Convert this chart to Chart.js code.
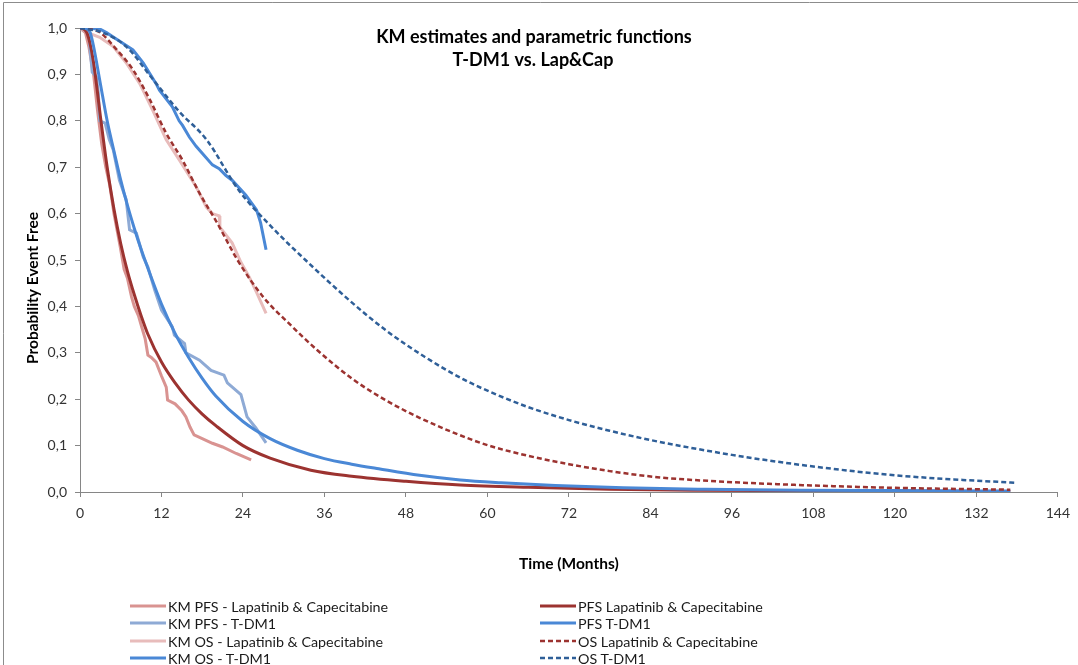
<!DOCTYPE html>
<html>
<head>
<meta charset="utf-8">
<script src="https://cdn.jsdelivr.net/npm/chart.js@4.4.1/dist/chart.umd.min.js"></script>
<style>
  html, body { margin: 0; padding: 0; background: #fff; }
  #wrap { position: relative; width: 1078px; height: 665px; overflow: hidden; }
  #legend { position: absolute; left: 0; top: 0; width: 100%; height: 100%; pointer-events: none;
            font-family: Lato, sans-serif; font-size: 14.3px; color: #1a1a1a; }
  .lg-item { position: absolute; height: 18px; display: flex; align-items: center; white-space: nowrap; }
  .lg-item svg { margin-right: 2px; }
</style>
</head>
<body>
<div id="wrap">
  <canvas id="chart" width="1078" height="665"></canvas>
  <div id="legend"></div>
</div>
<script>
// ---- data (time in months, survival probability) ----
const kmPfsLapT = [0, 0.8, 1.3, 2, 2.6, 3.2, 3.8, 4.4, 5, 5.9, 6.5, 7, 7.6, 8, 8.6, 9.1, 9.6, 10, 10.5, 11.2, 12, 12.7, 12.9, 14, 15, 15.6, 16.2, 16.8, 18, 19.5, 21, 23, 25.2];
const kmPfsLapS = [1, 0.99, 0.96, 0.9, 0.82, 0.75, 0.70, 0.66, 0.60, 0.53, 0.48, 0.46, 0.42, 0.40, 0.38, 0.355, 0.33, 0.295, 0.29, 0.28, 0.25, 0.226, 0.198, 0.19, 0.175, 0.162, 0.14, 0.123, 0.115, 0.105, 0.097, 0.083, 0.069];

const kmPfsTdmT = [0, 1.3, 1.5, 1.8, 2.4, 2.7, 2.9, 3.7, 4.3, 4.9, 5.8, 6.8, 7.3, 8.3, 9.3, 10, 11, 12, 13.6, 13.9, 15.4, 15.6, 17.6, 19.3, 21.2, 21.7, 23.7, 24.6, 25.9, 27.4];
const kmPfsTdmS = [1, 0.99, 0.95, 0.905, 0.895, 0.86, 0.80, 0.795, 0.76, 0.737, 0.672, 0.63, 0.565, 0.558, 0.507, 0.485, 0.435, 0.392, 0.356, 0.338, 0.32, 0.30, 0.284, 0.262, 0.252, 0.235, 0.21, 0.162, 0.138, 0.106];

const kmOsLapT = [0, 1.5, 2.9, 4.9, 6.8, 8.8, 10.7, 12.7, 14.6, 17.1, 18.6, 19.5, 20.5, 20.6, 22.4, 23.7, 24.9, 26, 27.4];
const kmOsLapS = [1, 0.988, 0.98, 0.96, 0.925, 0.88, 0.823, 0.759, 0.716, 0.658, 0.614, 0.60, 0.595, 0.571, 0.537, 0.495, 0.464, 0.43, 0.385];

const kmOsTdmT = [0, 2.9, 3.9, 6.3, 7.8, 9.3, 11.2, 11.7, 13.6, 14.6, 15.1, 16.1, 17.1, 18, 19.5, 20.5, 21.5, 22.4, 24.4, 26, 26.6, 27.4];
const kmOsTdmS = [1, 0.998, 0.99, 0.967, 0.953, 0.925, 0.88, 0.866, 0.83, 0.80, 0.79, 0.765, 0.745, 0.73, 0.705, 0.697, 0.682, 0.672, 0.64, 0.608, 0.58, 0.522];

const pfsLapT = [0, 0.5, 1, 1.5, 2, 2.5, 3, 4, 5, 6, 7, 8, 9, 10, 12, 14, 16, 18, 20, 24, 28, 34, 40, 48, 56, 66, 78, 90, 105, 120, 137];
const pfsLapS = [1, 0.998, 0.99, 0.965, 0.925, 0.87, 0.81, 0.70, 0.61, 0.535, 0.475, 0.425, 0.38, 0.34, 0.28, 0.235, 0.198, 0.168, 0.143, 0.1, 0.073, 0.047, 0.034, 0.023, 0.015, 0.01, 0.006, 0.004, 0.003, 0.002, 0.001];

const pfsTdmT = [0, 1, 1.5, 2, 3, 4, 5, 6, 7, 8, 9, 10, 12, 14, 16, 18, 20, 24, 28, 32, 36, 40, 44, 50, 56, 62, 70, 80, 92, 106, 120, 137];
const pfsTdmS = [1, 0.998, 0.99, 0.96, 0.88, 0.80, 0.735, 0.672, 0.617, 0.568, 0.523, 0.482, 0.405, 0.342, 0.29, 0.245, 0.207, 0.152, 0.115, 0.09, 0.072, 0.06, 0.05, 0.036, 0.026, 0.02, 0.014, 0.009, 0.006, 0.004, 0.003, 0.002];

const osLapT = [0, 2, 3, 5, 7.8, 10.3, 12.7, 15.1, 17.6, 20, 23.4, 27, 31, 35, 40, 45, 50, 55, 60, 66, 72, 78, 85, 95, 110, 120, 137];
const osLapS = [1, 0.996, 0.99, 0.96, 0.91, 0.845, 0.773, 0.715, 0.644, 0.585, 0.495, 0.42, 0.36, 0.305, 0.245, 0.198, 0.16, 0.128, 0.101, 0.078, 0.06, 0.045, 0.032, 0.022, 0.013, 0.009, 0.005];

const osTdmT = [0, 3.4, 6.8, 10.7, 14.6, 18.6, 23.4, 28.3, 33.2, 39.6, 45, 50.8, 56.7, 61, 66, 72, 78, 84, 96, 108, 120, 130, 137.7];
const osTdmS = [1, 0.99, 0.96, 0.89, 0.82, 0.76, 0.65, 0.57, 0.50, 0.414, 0.349, 0.291, 0.241, 0.212, 0.183, 0.155, 0.132, 0.112, 0.08, 0.055, 0.036, 0.026, 0.02];

const seriesLabels = [
  'KM PFS - Lapatinib & Capecitabine', 'KM PFS - T-DM1',
  'KM OS - Lapatinib & Capecitabine', 'KM OS - T-DM1',
  'PFS Lapatinib & Capecitabine', 'PFS T-DM1',
  'OS Lapatinib & Capecitabine', 'OS T-DM1'
];
const xTicks = { min: 0, max: 144, step: 12 };

// ---- styles ----
const RED_KM = '#d99391', BLUE_KM = '#8eaad5', PINK_KM = '#e8bcbb', BLUE = '#4a88d6';
const RED = '#9c3330', NAVY = '#2f5f98';

const pts = (t, s) => t.map((v, i) => ({ x: v, y: s[i] }));

const styles = [
  { data: pts(kmPfsLapT, kmPfsLapS), color: RED_KM, dash: [], smooth: false },
  { data: pts(kmPfsTdmT, kmPfsTdmS), color: BLUE_KM, dash: [], smooth: false },
  { data: pts(kmOsLapT, kmOsLapS), color: PINK_KM, dash: [], smooth: false },
  { data: pts(kmOsTdmT, kmOsTdmS), color: BLUE, dash: [], smooth: false },
  { data: pts(pfsLapT, pfsLapS), color: RED, dash: [], smooth: true },
  { data: pts(pfsTdmT, pfsTdmS), color: BLUE, dash: [], smooth: true },
  { data: pts(osLapT, osLapS), color: RED, dash: [5, 3], smooth: true },
  { data: pts(osTdmT, osTdmS), color: NAVY, dash: [5, 3], smooth: true },
];

const datasets = styles.map((s, i) => ({
  label: seriesLabels[i],
  data: s.data,
  borderColor: s.color,
  backgroundColor: s.color,
  borderWidth: s.dash.length ? 2.5 : 3,
  borderDash: s.dash,
  pointRadius: 0,
  tension: s.smooth ? 0.4 : 0,
  cubicInterpolationMode: s.smooth ? 'monotone' : 'default',
  fill: false,
  order: styles.length - i   // later series drawn on top, like the original
}));

// title, y axis title and the frame lines
const decor = {
  id: 'decor',
  beforeDraw(chart) {
    const c = chart.ctx;
    c.save();
    c.fillStyle = '#fff';
    c.fillRect(0, 0, chart.width, chart.height);
    c.strokeStyle = '#8c8c8c';
    c.lineWidth = 1;
    c.beginPath();
    c.moveTo(3.5, chart.height);
    c.lineTo(3.5, 2.5);
    c.lineTo(chart.width, 2.5);
    c.stroke();
    c.restore();
  },
  afterDraw(chart) {
    const c = chart.ctx;
    c.save();
    c.fillStyle = '#000';
    c.textAlign = 'center';
    c.textBaseline = 'middle';
    c.font = 'bold 18px Lato';
    c.fillText('KM estimates and parametric functions', 534, 37);
    c.fillText('T-DM1 vs. Lap&Cap', 533, 60);
    c.translate(33, 288);
    c.rotate(-Math.PI / 2);
    c.font = 'bold 15.5px Lato';
    c.fillText('Probability Event Free', 0, 0);
    c.restore();
  }
};

const axisGrey = '#868686';
new Chart(document.getElementById('chart'), {
  type: 'line',
  data: { datasets },
  options: {
    responsive: false,
    animation: false,
    layout: { padding: { left: 25, top: 28, right: 15, bottom: 92 } },
    plugins: { legend: { display: false }, tooltip: { enabled: false } },
    scales: {
      x: {
        type: 'linear', min: xTicks.min, max: xTicks.max,
        ticks: { stepSize: xTicks.step, color: '#333', font: { family: 'Lato', size: 14 }, padding: 8, maxRotation: 0 },
        grid: { drawOnChartArea: false, tickLength: 5, color: axisGrey },
        border: { color: axisGrey },
        title: { display: true, text: 'Time (Months)', color: '#000', font: { family: 'Lato', size: 15.5, weight: 'bold' }, padding: 0 },
        afterFit: s => { s.height = 81; }
      },
      y: {
        min: 0, max: 1,
        ticks: { stepSize: 0.1, color: '#333', font: { family: 'Lato', size: 14 }, padding: 8,
                 callback: v => v.toFixed(1).replace('.', ',') },
        grid: { drawOnChartArea: false, tickLength: 5, color: axisGrey },
        border: { color: axisGrey },
        afterFit: s => { s.width = 55; }
      }
    }
  },
  plugins: [decor]
});

// legend: two columns, four rows, filled column by column
const legend = document.getElementById('legend');
const colX = [130, 540], rowY = [597, 614, 632, 649];
datasets.forEach((d, i) => {
  const col = Math.floor(i / 4), row = i % 4;
  const item = document.createElement('div');
  item.className = 'lg-item';
  item.style.left = colX[col] + 'px';
  item.style.top = rowY[row] + 'px';
  const dash = d.borderDash.length ? `stroke-dasharray="${d.borderDash.join(' ')}"` : '';
  item.innerHTML = `<svg width="36" height="6"><line x1="0" y1="3" x2="36" y2="3" stroke="${d.borderColor}" stroke-width="${d.borderWidth}" ${dash}/></svg><span>${d.label.replace(/&/g, '&amp;')}</span>`;
  legend.appendChild(item);
});
</script>
</body>
</html>
